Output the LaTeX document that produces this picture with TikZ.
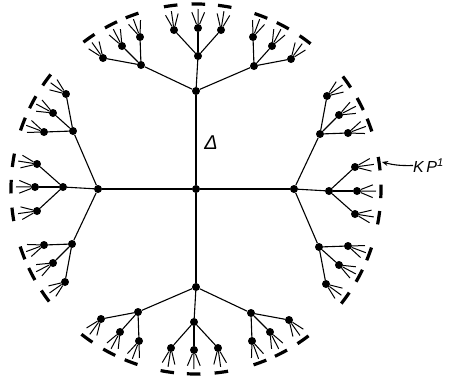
\documentclass[tikz,border=0pt]{standalone}
\usepackage{fontspec}
\usetikzlibrary{arrows.meta}
\newfontfamily\labelfont{Liberation Sans}

\begin{document}
\begin{tikzpicture}[x=1pt, y=1pt,
    dot/.style={circle, fill=black, inner sep=0pt, minimum size=8pt},
    edge/.style={line width=1.1pt},
    leaf/.style={line width=1pt},
    rim/.style={line width=3.2pt}]
    \useasboundingbox (-196,-192) rectangle (253,189);

    % Centre vertex
    \node[dot] (c) at (0,0) {};

    % Four quarters of the tree, the same pattern turned
    \foreach \q/\r in {n/0, e/-90, w/90, s/180} {
        \begin{scope}[rotate=\r]
            \node[dot] (\q) at (0,98) {};
            \draw[edge] (c) -- (\q);
            % children
            \foreach \k/\t/\d in {1/-55/124, 2/2/133, 3/58/123} {
                \node[dot] (\q\k) at (\t,\d) {};
                \draw[edge] (\q) -- (\q\k);
            }
            % grandchildren, their leaves and the dashes of the rim
            \foreach \k/\j/\t/\d in {1/1/-93/131, 1/2/-74/143, 1/3/-56/152,
                                     2/1/-22/159, 2/2/2/161, 2/3/25/159,
                                     3/1/57/152, 3/2/76/143, 3/3/95/130} {
                \pgfmathsetmacro{\a}{atan2(\d,\t)}
                \node[dot] (\q\k\j) at (\t,\d) {};
                \draw[edge] (\q\k) -- (\q\k\j);
                \foreach \l/\s/\len in {1/-22/17, 2/0/19, 3/22/17} {
                    \coordinate (\q\k\j-\l) at ({\t+\len*cos(\a+\s)},{\d+\len*sin(\a+\s)});
                    \draw[leaf] (\q\k\j) -- (\q\k\j-\l);
                }
                \draw[rim] (\a-2.1:185) arc[start angle=\a-2.1, end angle=\a+2.1, radius=185];
            }
        \end{scope}
    }

    % Labels
    \node[font=\labelfont\itshape\fontsize{20}{22}\selectfont] (delta) at (15,46) {Δ};
    \node[font=\labelfont\itshape\fontsize{16}{18}\selectfont, anchor=west, inner sep=0pt] (kp) at (217,23.5) {K\kern2.5pt P\textsuperscript{1}};
    \coordinate (kptip) at (186,27);
    \draw[line width=1.1pt, -{Stealth[length=6pt, width=5pt]}] (kp.west) to[bend left=8] (kptip);
\end{tikzpicture}
\end{document}
